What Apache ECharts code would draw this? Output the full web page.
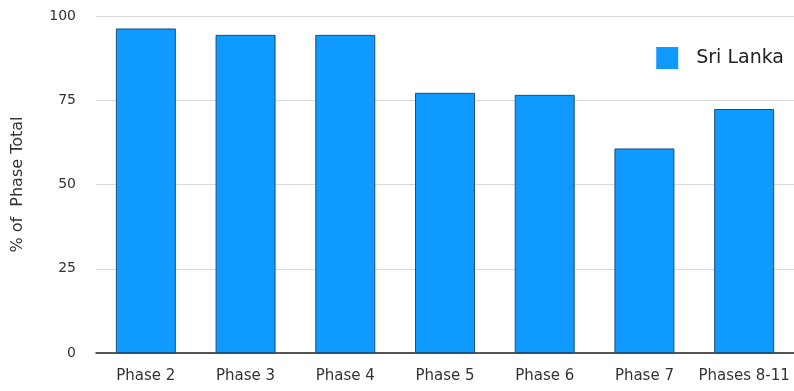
<!DOCTYPE html>
<html>
<head>
<meta charset="utf-8">
<script src="https://cdn.jsdelivr.net/npm/echarts@6/dist/echarts.min.js"></script>
<style>
  html, body { margin: 0; padding: 0; background: #fff; }
  #chart { width: 794px; height: 391px; }
</style>
</head>
<body>
<div id="chart"></div>
<script>
// Share of each phase total, Sri Lanka
const categories = ['Phase 2', 'Phase 3', 'Phase 4', 'Phase 5', 'Phase 6', 'Phase 7', 'Phases 8-11'];
const sriLanka = [96.3, 94.4, 94.4, 77.2, 76.6, 60.7, 72.4];
const yTicks = [0, 25, 50, 75, 100];

const chart = echarts.init(document.getElementById('chart'));
chart.setOption({
  animation: false,
  backgroundColor: '#ffffff',
  textStyle: { fontFamily: 'DejaVu Sans' },
  grid: { left: 96, top: 16, bottom: 38, width: 700 },
  legend: {
    right: 5,
    top: 42,
    icon: 'rect',
    itemWidth: 22,
    itemHeight: 22,
    itemStyle: { borderWidth: 0 },
    textStyle: { fontSize: 19, color: '#222', padding: [0, 0, 0, 13] },
    data: ['Sri Lanka']
  },
  xAxis: {
    type: 'category',
    data: categories,
    axisLine: { lineStyle: { color: '#222', width: 1.5 } },
    axisTick: { show: false },
    axisLabel: { fontSize: 15, color: '#333', margin: 16, interval: 0 }
  },
  yAxis: {
    type: 'value',
    min: yTicks[0],
    max: yTicks[yTicks.length - 1],
    interval: 25,
    name: '% of  Phase Total',
    nameLocation: 'middle',
    nameGap: 70,
    nameTextStyle: { fontSize: 16, color: '#333' },
    axisLine: { show: false },
    axisTick: { show: false },
    splitLine: { lineStyle: { color: '#d9d9d9', width: 1 } },
    axisLabel: { fontSize: 14, color: '#333', margin: 20 }
  },
  series: [{
    name: 'Sri Lanka',
    type: 'bar',
    data: sriLanka,
    barWidth: 60,
    itemStyle: { color: '#0f9aff', borderColor: '#1d4f78', borderWidth: 1 }
  }]
});
</script>
</body>
</html>
